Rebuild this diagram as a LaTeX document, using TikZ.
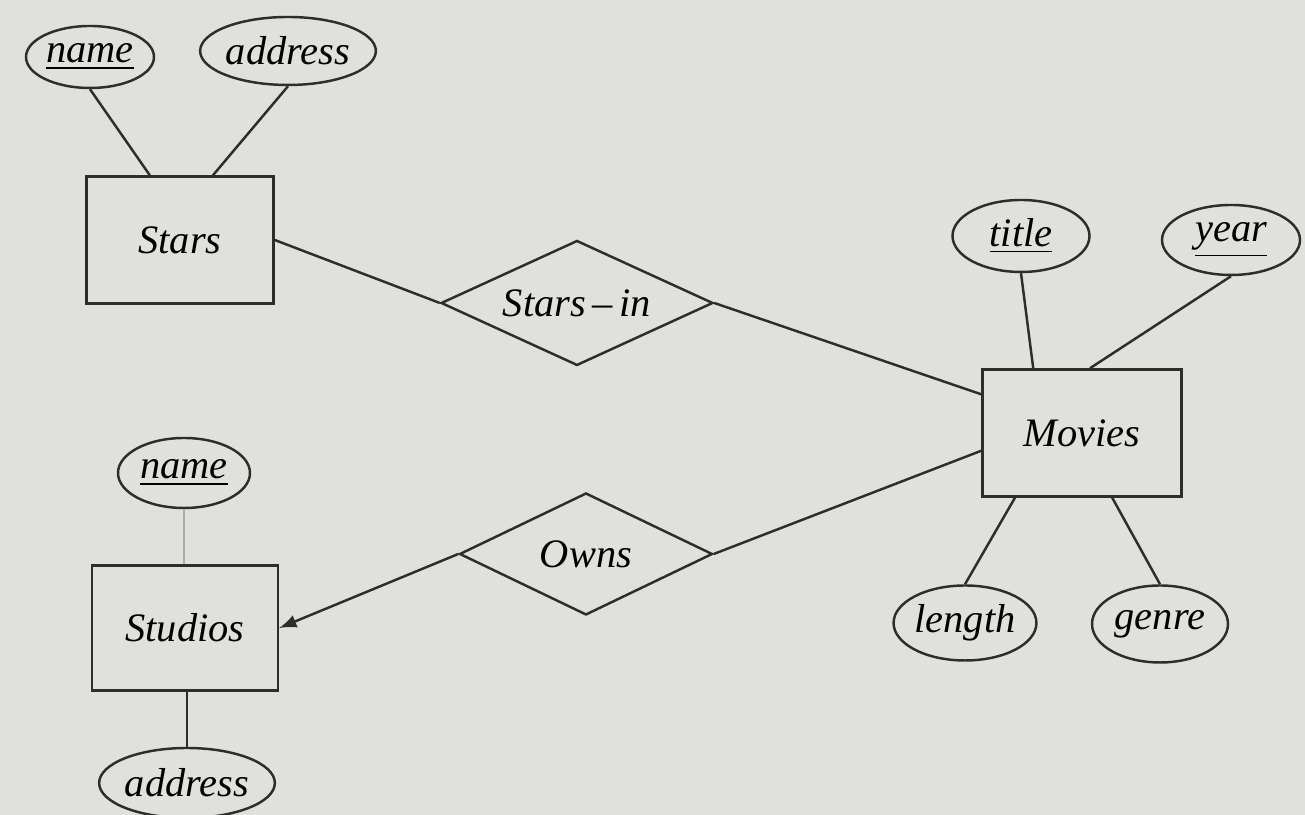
\documentclass[tikz,border=0pt]{standalone}
\usepackage{fontspec}
\setmainfont{Liberation Serif}
\usepackage{xcolor}
\usepackage{tikz}
\usetikzlibrary{shapes,arrows,positioning,calc}

\definecolor{paper}{RGB}{224,225,221}
\definecolor{ink}{RGB}{45,45,45}

\begin{document}
\begin{tikzpicture}[
    entity/.style={draw=ink, line width=0.7pt, minimum width=1.87cm, minimum height=1.27cm, inner sep=0pt, font=\fontsize{11.5}{13}\selectfont\itshape},
    attr/.style={draw=ink, line width=0.7pt, ellipse, inner sep=0pt, minimum width=1.36cm, minimum height=0.72cm, font=\fontsize{11.5}{13}\selectfont\itshape},
    rel/.style={draw=ink, line width=0.7pt, diamond, aspect=2.2, inner sep=0pt, minimum width=2.6cm, minimum height=1.24cm, font=\fontsize{11.5}{13}\selectfont\itshape},
    line/.style={draw=ink, line width=0.7pt},
    arrow/.style={->, >=latex, draw=ink, line width=0.7pt}
]
    \useasboundingbox[fill=paper] (0,0) rectangle (13.05,8.15);

    % entities
    \node[entity] (stars) at (1.80,5.75) {Stars};
    \node[entity, minimum width=1.99cm] (movies) at (10.82,3.82) {Movies};
    \node[entity, minimum width=1.86cm, minimum height=1.25cm] (studios) at (1.85,1.87) {Studios};

    % relationships
    \node[rel, minimum width=2.72cm, minimum height=1.25cm] (stars_in) at (5.77,5.12) {Stars\,--\,in};
    \node[rel, minimum width=2.53cm, minimum height=1.22cm] (owns) at (5.86,2.61) {Owns};

    % attributes
    \node[attr, minimum width=1.28cm, minimum height=0.62cm] (stars_name) at (0.90,7.58) {\underline{name}};
    \node[attr, minimum width=1.64cm, minimum height=0.68cm] (stars_addr) at (2.88,7.64) {address};
    \node[attr, minimum width=1.37cm] (movie_title) at (10.21,5.79) {\underline{title}};
    \node[attr, minimum width=1.38cm, minimum height=0.70cm] (movie_year) at (12.31,5.75) {\underline{year}};
    \node[attr, minimum height=0.75cm] (movie_length) at (9.65,1.92) {length};
    \node[attr, minimum height=0.77cm] (movie_genre) at (11.60,1.91) {genre};
    \node[attr, minimum width=1.32cm, minimum height=0.70cm] (studio_name) at (1.84,3.42) {\underline{name}};
    \node[attr, minimum width=1.62cm, minimum height=0.70cm] (studio_addr) at (1.87,0.32) {address};

    \draw[line] (stars_name.south) -- (stars.115);
    \draw[line] (stars_addr.south) -- (stars.63);
    \draw[line] (stars.east) -- (stars_in.west);
    \draw[line] (stars_in.east) -- (movies.159);
    \draw[line] (owns.east) -- (movies.190);
    \draw[arrow] (owns.west) -- (studios.east);
    \draw[line] (movie_title.south) -- (movies.127);
    \draw[line] (movie_year.south) -- (movies.83);
    \draw[line] (movies.224) -- (movie_length.north);
    \draw[line] (movies.295) -- (movie_genre.north);
    \draw[draw=ink!40, line width=0.4pt] (studio_name.south) -- (studios.north -| studio_name.south);
    \draw[line] (studios.south -| studio_addr.north) -- (studio_addr.north);
\end{tikzpicture}
\end{document}
